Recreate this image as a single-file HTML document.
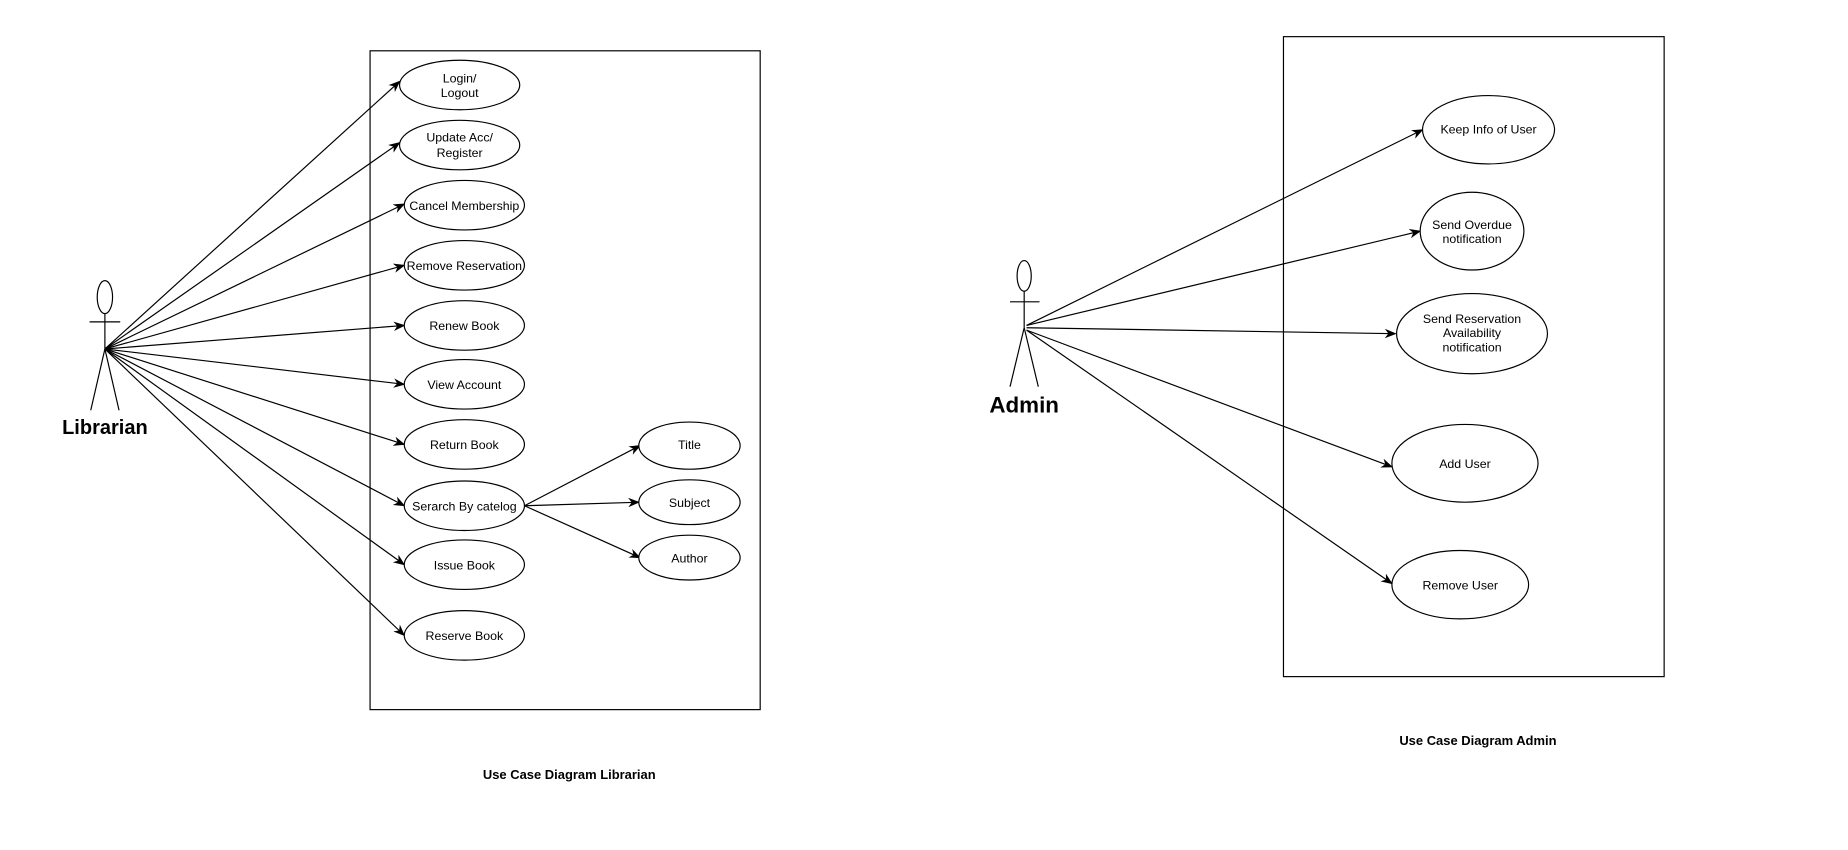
<!DOCTYPE html>
<html><head><meta charset="utf-8"><style>
html,body{margin:0;padding:0;background:#fff;width:1848px;height:850px;overflow:hidden}
text{font-family:"Liberation Sans",Arial,sans-serif;fill:#000}
</style></head><body>
<svg width="1848" height="850" viewBox="0 0 1568 721" xmlns="http://www.w3.org/2000/svg">
<defs><marker id="ah" markerWidth="10" markerHeight="8" refX="9" refY="4" orient="auto" markerUnits="userSpaceOnUse"><path d="M0,0 L10,4 L0,8 L3,4 Z" fill="#000"/></marker></defs>
<g stroke="#000" fill="none" stroke-width="1">
<rect x="314" y="43" width="331" height="559"/>
<g>
<ellipse cx="89" cy="252" rx="6.5" ry="14" fill="#fff"/>
<line x1="76" y1="273" x2="102" y2="273"/><line x1="89" y1="266" x2="89" y2="296"/>
<line x1="89" y1="296" x2="77" y2="348"/><line x1="89" y1="296" x2="101" y2="348"/>
</g>
<g marker-end="url(#ah)">
<line x1="89" y1="296" x2="339" y2="69"/><line x1="89" y1="296" x2="339" y2="121"/>
<line x1="89" y1="296" x2="343" y2="173"/><line x1="89" y1="296" x2="343" y2="225"/>
<line x1="89" y1="296" x2="343" y2="276"/><line x1="89" y1="296" x2="343" y2="326"/>
<line x1="89" y1="296" x2="343" y2="377"/><line x1="89" y1="296" x2="343" y2="429"/>
<line x1="89" y1="296" x2="343" y2="479"/><line x1="89" y1="296" x2="343" y2="539"/>
<line x1="445" y1="429" x2="543" y2="378"/><line x1="445" y1="429" x2="542" y2="426"/>
<line x1="445" y1="429" x2="543" y2="473"/>
</g>
<g fill="#fff">
<ellipse cx="390" cy="72" rx="51" ry="21"/>
<ellipse cx="390" cy="123" rx="51" ry="21"/>
<ellipse cx="394" cy="174" rx="51" ry="21"/>
<ellipse cx="394" cy="225" rx="51" ry="21"/>
<ellipse cx="394" cy="276" rx="51" ry="21"/>
<ellipse cx="394" cy="326" rx="51" ry="21"/>
<ellipse cx="394" cy="377" rx="51" ry="21"/>
<ellipse cx="394" cy="429" rx="51" ry="21"/>
<ellipse cx="394" cy="479" rx="51" ry="21"/>
<ellipse cx="394" cy="539" rx="51" ry="21"/>
<ellipse cx="585" cy="378" rx="43" ry="20"/>
<ellipse cx="585" cy="426" rx="43" ry="19"/>
<ellipse cx="585" cy="473" rx="43" ry="19"/>
</g>
</g>
<g font-size="10.5" text-anchor="middle">
<text x="390" y="70">Login/</text><text x="390" y="82">Logout</text>
<text x="390" y="120">Update Acc/</text><text x="390" y="133">Register</text>
<text x="394" y="178">Cancel Membership</text>
<text x="394" y="229">Remove Reservation</text>
<text x="394" y="280">Renew Book</text>
<text x="394" y="330">View Account</text>
<text x="394" y="381">Return Book</text>
<text x="394" y="433">Serarch By catelog</text>
<text x="394" y="483">Issue Book</text>
<text x="394" y="543">Reserve Book</text>
<text x="585" y="381">Title</text>
<text x="585" y="430">Subject</text>
<text x="585" y="477">Author</text>
</g>
<text x="89" y="368" font-size="17" font-weight="bold" text-anchor="middle">Librarian</text>
<text x="483" y="661" font-size="11" font-weight="bold" text-anchor="middle">Use Case Diagram Librarian</text>

<g stroke="#000" fill="none" stroke-width="1">
<rect x="1089" y="31" width="323" height="543"/>
<g>
<ellipse cx="869" cy="234" rx="6" ry="13" fill="#fff"/>
<line x1="857" y1="256" x2="882" y2="256"/><line x1="869" y1="247" x2="869" y2="278"/>
<line x1="869" y1="278" x2="857" y2="328"/><line x1="869" y1="278" x2="881" y2="328"/>
</g>
<g marker-end="url(#ah)">
<line x1="871" y1="276" x2="1207" y2="110"/><line x1="871" y1="276" x2="1205" y2="196"/>
<line x1="871" y1="278" x2="1184" y2="283"/><line x1="871" y1="280" x2="1181" y2="396"/>
<line x1="871" y1="280" x2="1181" y2="495"/>
</g>
<g fill="#fff">
<ellipse cx="1263" cy="110" rx="56" ry="29"/>
<ellipse cx="1249" cy="196" rx="44" ry="33"/>
<ellipse cx="1249" cy="283" rx="64" ry="34"/>
<ellipse cx="1243" cy="393" rx="62" ry="33"/>
<ellipse cx="1239" cy="496" rx="58" ry="29"/>
</g>
</g>
<g font-size="10.5" text-anchor="middle">
<text x="1263" y="113">Keep Info of User</text>
<text x="1249" y="194">Send Overdue</text><text x="1249" y="206">notification</text>
<text x="1249" y="274">Send Reservation</text><text x="1249" y="286">Availability</text><text x="1249" y="298">notification</text>
<text x="1243" y="397">Add User</text>
<text x="1239" y="500">Remove User</text>
</g>
<text x="869" y="350" font-size="19" font-weight="bold" text-anchor="middle">Admin</text>
<text x="1254" y="632" font-size="11" font-weight="bold" text-anchor="middle">Use Case Diagram Admin</text>
</svg>
</body></html>
